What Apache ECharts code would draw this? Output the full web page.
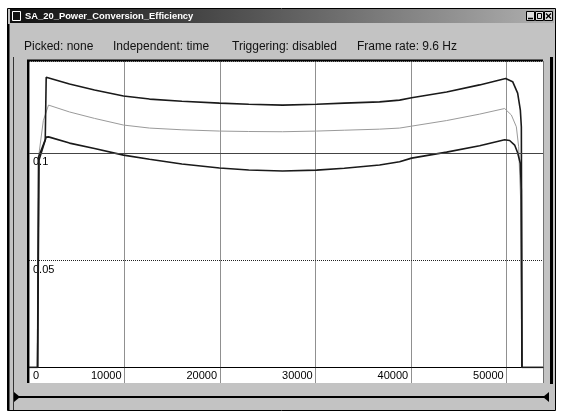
<!DOCTYPE html>
<html><head><meta charset="utf-8">
<script src="https://cdn.jsdelivr.net/npm/echarts@6/dist/echarts.min.js"></script>
<style>html,body{margin:0;padding:0;background:#fff}#c{width:561px;height:413px}</style>
</head><body><div id="c"></div><script>
const windowTitle = 'SA_20_Power_Conversion_Efficiency';
const statusItems = ['Picked: none', 'Independent: time', 'Triggering: disabled', 'Frame rate: 9.6 Hz'];
const xTickLabels = [0, 10000, 20000, 30000, 40000, 50000];
const yTickLabels = [0.05, 0.1];

const topX = [0, 900, 1000, 1700, 1800, 4240, 6858, 9894, 12616, 16000, 19945, 23000, 26540, 30100, 33000, 36696, 38790, 40046, 43712, 47167, 49890, 50623, 51146, 51429, 51534, 51596, 53800];
const topY = [0, 0, 0.098, 0.106, 0.1352, 0.1320, 0.1292, 0.1264, 0.1250, 0.1240, 0.1231, 0.1226, 0.1222, 0.1226, 0.1231, 0.1237, 0.1245, 0.1256, 0.1283, 0.1316, 0.1346, 0.1331, 0.1278, 0.1199, 0.1120, 0, 0];

const midX = [0, 850, 1000, 1500, 2042, 4240, 6858, 9894, 12616, 16000, 19945, 23000, 26540, 30100, 33000, 36696, 38790, 40046, 43712, 47167, 49785, 50487, 51010, 51251, 51460, 51565, 53800];
const midY = [0, 0, 0.098, 0.115, 0.1222, 0.1190, 0.1160, 0.1129, 0.1115, 0.1107, 0.1101, 0.1099, 0.1098, 0.1101, 0.1105, 0.1110, 0.1115, 0.1124, 0.1150, 0.1180, 0.1206, 0.1176, 0.1121, 0.1028, 0.078, 0, 0];

const botX = [0, 900, 1050, 1800, 2042, 4240, 6858, 9894, 12616, 16000, 19945, 23000, 26540, 30100, 33000, 36696, 38790, 40046, 43712, 47167, 49785, 50309, 50832, 51146, 51430, 51530, 51596, 53800];
const botY = [0, 0, 0.0966, 0.1073, 0.1074, 0.1045, 0.1020, 0.0989, 0.0970, 0.0948, 0.0929, 0.0920, 0.0915, 0.0919, 0.0928, 0.0943, 0.0958, 0.0975, 0.1003, 0.1033, 0.1061, 0.1057, 0.1036, 0.1000, 0.0950, 0.0825, 0, 0];

const zip = (xs, ys) => xs.map((x, i) => [x, ys[i]]);
const chart = echarts.init(document.getElementById('c'), null, {renderer: 'canvas'});
const FONT = '"Liberation Sans", Arial, sans-serif';
const statusX = [24, 113, 232, 357];

const graphic = [
  {type: 'rect', z: -20, shape: {x: 7.5, y: 8.5, width: 548, height: 402}, style: {fill: '#c3c3c3', stroke: '#000', lineWidth: 1}},
  {type: 'rect', z: -19, shape: {x: 10, y: 9, width: 544, height: 14},
    style: {fill: new echarts.graphic.LinearGradient(0, 0, 1, 0, [{offset: 0, color: '#111'}, {offset: 0.45, color: '#555'}, {offset: 1, color: '#b0b0b0'}])}},
  {type: 'rect', z: -18, shape: {x: 12.5, y: 11.5, width: 8, height: 9}, style: {fill: 'none', stroke: '#fff', lineWidth: 1}},
  {type: 'text', z: -18, x: 25, y: 16, style: {text: windowTitle, fill: '#fff', fontFamily: FONT, fontSize: 9.4, fontWeight: 'bold', verticalAlign: 'middle'}},
  {type: 'rect', z: -18, shape: {x: 526.5, y: 11.5, width: 8, height: 9}, style: {fill: '#ddd', stroke: '#000', lineWidth: 1}},
  {type: 'rect', z: -18, shape: {x: 535.5, y: 11.5, width: 8, height: 9}, style: {fill: '#ddd', stroke: '#000', lineWidth: 1}},
  {type: 'rect', z: -18, shape: {x: 544.5, y: 11.5, width: 8, height: 9}, style: {fill: '#ddd', stroke: '#000', lineWidth: 1}},
  {type: 'line', z: -17, shape: {x1: 528, y1: 18.5, x2: 533, y2: 18.5}, style: {stroke: '#000', lineWidth: 1.5}},
  {type: 'rect', z: -17, shape: {x: 537.5, y: 13.5, width: 4, height: 5}, style: {fill: 'none', stroke: '#000', lineWidth: 1}},
  {type: 'line', z: -17, shape: {x1: 546, y1: 13.5, x2: 551, y2: 18.5}, style: {stroke: '#000', lineWidth: 1.2}},
  {type: 'line', z: -17, shape: {x1: 551, y1: 13.5, x2: 546, y2: 18.5}, style: {stroke: '#000', lineWidth: 1.2}},
  ...statusItems.map((t, i) => ({type: 'text', z: -18, x: statusX[i], y: 47, style: {text: t, fill: '#111', fontFamily: FONT, fontSize: 12, verticalAlign: 'middle'}})),
  {type: 'rect', z: -16, shape: {x: 28, y: 60, width: 515, height: 323}, style: {fill: '#fff'}},
  {type: 'line', z: -15, shape: {x1: 27, y1: 60.5, x2: 543, y2: 60.5}, style: {stroke: '#000', lineWidth: 2}},
  {type: 'line', z: -15, shape: {x1: 28, y1: 60, x2: 28, y2: 383}, style: {stroke: '#000', lineWidth: 2}},
  {type: 'line', z: -15, shape: {x1: 551.5, y1: 57, x2: 551.5, y2: 384}, style: {stroke: '#000', lineWidth: 3}},
  {type: 'line', z: -15, shape: {x1: 8.5, y1: 24, x2: 8.5, y2: 410}, style: {stroke: '#000', lineWidth: 2}},
  {type: 'line', z: -15, shape: {x1: 13.5, y1: 57, x2: 13.5, y2: 410}, style: {stroke: '#333', lineWidth: 1}},
  {type: 'line', z: -15, shape: {x1: 14, y1: 397, x2: 548, y2: 397}, style: {stroke: '#000', lineWidth: 2}},
  {type: 'polygon', z: -15, shape: {points: [[14, 392], [14, 402], [20, 397]]}, style: {fill: '#000'}},
  {type: 'polygon', z: -15, shape: {points: [[549, 392], [549, 402], [543, 397]]}, style: {fill: '#000'}}
];

chart.setOption({
  animation: false,
  backgroundColor: '#fff',
  graphic: graphic,
  grid: {left: 29, top: 61.5, width: 514, height: 306, containLabel: false},
  xAxis: {
    type: 'value', min: 0, max: 53800, interval: 10000,
    axisLine: {show: true, onZero: false, lineStyle: {color: '#000', width: 1}},
    axisTick: {show: true, length: 15, lineStyle: {color: '#222', type: 'dotted'}},
    splitLine: {show: true, lineStyle: {color: '#222', type: 'dotted'}},
    axisLabel: {
      color: '#000', fontFamily: FONT, fontSize: 11, margin: 3,
      align: 'right', alignMinLabel: 'left', padding: [0, 3, 0, 0],
      formatter: v => xTickLabels.includes(v) ? (v === 0 ? '{z|0}' : String(v)) : '',
      rich: {z: {padding: [0, 0, 0, 4], fontFamily: FONT, fontSize: 11, color: '#000'}}
    }
  },
  yAxis: {
    type: 'value', min: 0, max: 0.1425, interval: 0.05,
    axisLine: {show: false},
    axisTick: {show: false},
    splitLine: {show: true, lineStyle: {color: '#222', type: 'dotted'}},
    axisLabel: {
      inside: true, align: 'left', verticalAlign: 'top', margin: 4, padding: [4, 0, 0, 0],
      color: '#000', fontFamily: FONT, fontSize: 11, showMinLabel: false,
      formatter: v => yTickLabels.some(t => Math.abs(t - v) < 1e-9) ? String(+v.toFixed(4)) : ''
    }
  },
  series: [
    {type: 'line', data: zip(midX, midY), showSymbol: false, smooth: false, lineStyle: {color: '#9a9a9a', width: 1}, z: 3},
    {type: 'line', data: zip(topX, topY), showSymbol: false, lineStyle: {color: '#1a1a1a', width: 1.6}, z: 4},
    {type: 'line', data: zip(botX, botY), showSymbol: false, lineStyle: {color: '#1a1a1a', width: 1.6}, z: 4,
      markLine: {silent: true, symbol: 'none', label: {show: false}, lineStyle: {color: '#444', type: 'solid', width: 1}, data: [{yAxis: yTickLabels[1]}]}}
  ]
});
</script></body></html>
